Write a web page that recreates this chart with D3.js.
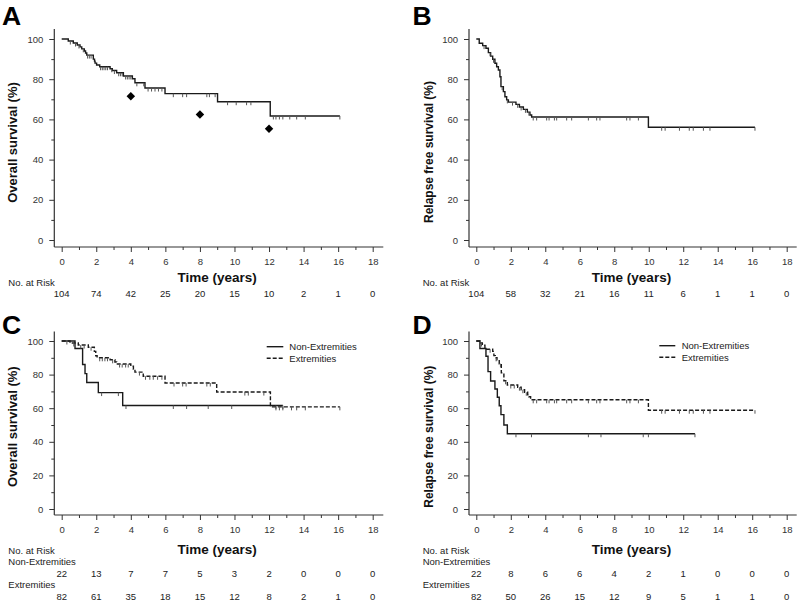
<!DOCTYPE html>
<html><head><meta charset="utf-8">
<script src="https://cdn.jsdelivr.net/npm/d3@7"></script>
<style>
html,body{margin:0;padding:0;background:#fff;}
svg{display:block;font-family:"Liberation Sans",Arial,sans-serif;}
</style></head>
<body>
<svg id="chart" width="800" height="601"></svg>
<script>
// ---------- DATA ----------
const xTicks = [0,2,4,6,8,10,12,14,16,18];
const xMinor = [1,3,5,7,9,11,13,15,17];
const yTicks = [0,20,40,60,80,100];
const yMinor = [10,30,50,70,90];

// Panel A: overall survival (all patients) — [time, survival%]
const osAllSteps = [[0,100],[0.38,99.0],[0.67,98.0],[0.9,97.0],[1.06,96.1],[1.16,95.1],[1.31,94.0],[1.38,93.0],[1.45,92.0],[1.83,90.0],[1.9,89.0],[1.93,88.0],[2.02,87.1],[2.2,86.2],[2.8,85.2],[2.93,84.3],[3.18,83.2],[3.57,81.6],[4.09,80.2],[4.24,78.2],[4.82,75.6],[5.98,72.8],[9.02,68.8],[12.07,61.7]];
const osAllEnd = 16.1;
const osAllCensor = [0.5,0.8,1.0,1.25,1.5,1.6,1.7,2.25,2.35,2.45,2.55,2.65,2.9,3.05,3.3,3.4,3.5,3.7,3.8,3.9,4.0,4.35,4.75,5.0,5.2,5.4,5.6,5.8,6.46,7.0,7.23,8.4,8.55,8.88,9.6,10.1,10.7,10.95,12.25,12.4,12.6,12.8,13.2,13.6,14.1,16.1];
const osRefTimes = [4,8,12];
const osRefValues = [71.5,62.4,55.4];
const riskA = [104,74,42,25,20,15,10,2,1,0];

// Panel B: relapse free survival (all patients)
const rfsAllSteps = [[0,100],[0.17,97.9],[0.37,96.7],[0.56,95.4],[0.7,93.2],[0.83,91.5],[0.95,89.9],[1.08,87.9],[1.18,86.2],[1.28,84.6],[1.37,81.2],[1.43,76.3],[1.57,73.8],[1.66,71.3],[1.76,69.7],[1.86,68.6],[2.3,67.5],[2.5,66.2],[2.73,65.0],[2.96,63.6],[3.11,62.2],[3.21,61.2],[9.98,56.1]];
const rfsAllEnd = 16.16;
const rfsAllCensor = [0.45,0.8,1.0,1.5,1.8,2.1,2.4,2.6,2.85,3.05,3.3,3.5,4.08,4.22,4.53,4.66,5.24,5.53,6.5,6.98,7.17,8.72,8.91,9.4,10.75,10.95,11.78,12.35,12.58,13.17,13.55,16.16];
const riskB = [104,58,32,21,16,11,6,1,1,0];

// Panel C: overall survival by site
const groups = ["Non-Extremities","Extremities"];
const osNonSteps = [[0,100],[0.77,95.5],[1.21,86.0],[1.35,80.6],[1.45,75.3],[2.12,69.3],[3.53,61.6]];
const osNonEnd = 12.8;
const osNonCensor = [2.31,3.28,3.72,6.46,7.23,8.48,9.84,12.4,12.8];
const osExtSteps = [[0,100],[0.48,98.8],[0.96,97.6],[1.54,96.3],[1.89,93.8],[1.97,91.2],[2.05,90.0],[2.8,88.8],[3.08,87.5],[3.18,86.3],[4.0,85.0],[4.15,83.2],[4.24,81.5],[4.72,79.0],[5.98,75.0],[8.97,69.6],[12.08,60.8]];
const osExtEnd = 16.1;
const osExtCensor = [0.3,0.7,1.1,1.3,1.7,2.2,2.35,2.5,2.65,2.95,3.35,3.5,3.7,3.85,4.5,4.85,5.1,5.3,5.55,5.8,6.5,7.0,7.2,8.4,8.6,10.6,10.8,11.7,12.4,12.6,12.8,13.3,13.6,14.1,16.1];
const riskCNon = [22,13,7,7,5,3,2,0,0,0];
const riskCExt = [82,61,35,18,15,12,8,2,1,0];

// Panel D: relapse free survival by site
const rfsNonSteps = [[0,100],[0.21,95.5],[0.56,90.9],[0.68,81.8],[0.83,76.2],[1.08,71.4],[1.22,66.5],[1.33,61.5],[1.43,56.2],[1.6,50.0],[1.8,44.8]];
const rfsNonEnd = 12.68;
const rfsNonCensor = [2.3,3.2,6.5,7.23,9.68,9.98,12.68];
const rfsExtSteps = [[0,100],[0.2,98.8],[0.35,97.5],[0.5,95.1],[0.95,93.8],[1.02,91.3],[1.1,90.0],[1.2,88.8],[1.33,86.5],[1.45,81.0],[1.6,76.3],[1.8,73.8],[2.4,72.5],[2.6,71.0],[2.8,69.5],[2.98,68.0],[3.05,66.8],[3.15,65.0],[9.98,58.8]];
const rfsExtEnd = 16.16;
const rfsExtCensor = [0.3,0.8,1.15,1.4,1.7,2.0,2.2,2.5,2.7,2.9,3.3,3.5,4.08,4.22,4.53,4.66,5.24,5.53,6.5,6.98,7.17,8.72,8.91,9.4,10.75,10.95,11.78,12.35,12.58,13.17,13.55,16.16];
const riskDNon = [22,8,6,6,4,2,1,0,0,0];
const riskDExt = [82,50,26,15,12,9,5,1,1,0];

// ---------- DRAWING ----------
const svg = d3.select("#chart");
const FONT = 9.5;
const lineColor = "#1a1a1a";

function stepAt(steps, t){
  let v = steps[0][1];
  for (const s of steps){ if (s[0] <= t) v = s[1]; }
  return v;
}

function drawPanel(p){
  const g = svg.append("g");
  const x = d3.scaleLinear().domain([0,18]).range([p.x0, p.x18]);
  const y = d3.scaleLinear().domain([0,100]).range([p.y0, p.y100]);

  g.append("line").attr("x1",p.axisX).attr("x2",p.axisX).attr("y1",p.axisTop).attr("y2",p.baseY)
    .attr("stroke","#333").attr("stroke-width",1.2);
  g.append("line").attr("x1",p.axisX).attr("x2",p.axisRight).attr("y1",p.baseY).attr("y2",p.baseY)
    .attr("stroke","#333").attr("stroke-width",1.2);

  const ya = g.append("g").attr("transform",`translate(${p.axisX},0)`)
    .call(d3.axisLeft(y).tickValues(yTicks).tickSize(5).tickPadding(6).tickFormat(d3.format("d")));
  const ym = g.append("g").attr("transform",`translate(${p.axisX},0)`)
    .call(d3.axisLeft(y).tickValues(yMinor).tickSize(3).tickFormat(""));
  const xa = g.append("g").attr("transform",`translate(0,${p.baseY})`)
    .call(d3.axisBottom(x).tickValues(xTicks).tickSize(5).tickPadding(6.5).tickFormat(d3.format("d")));
  const xm = g.append("g").attr("transform",`translate(0,${p.baseY})`)
    .call(d3.axisBottom(x).tickValues(xMinor).tickSize(3).tickFormat(""));
  [ya,ym,xa,xm].forEach(a=>{
    a.select(".domain").remove();
    a.selectAll(".tick line").attr("stroke","#333").attr("stroke-width",1);
    a.selectAll(".tick text").attr("font-size",FONT).attr("fill","#333")
      .attr("font-family",'"Liberation Sans",Arial,sans-serif');
  });

  g.append("text").attr("x",p.letterX).attr("y",p.letterY).attr("font-size",26.5).attr("font-weight","bold")
    .attr("fill","#000").text(p.letter);

  g.append("text").attr("transform",`translate(${p.ylabX},${p.ylabY}) rotate(-90)`)
    .attr("text-anchor","middle").attr("font-size",p.ylabSize).attr("font-weight","bold").attr("fill","#111")
    .text(p.ylab);
  g.append("text").attr("x",(p.x0+p.x18)/2).attr("y",p.xlabY).attr("text-anchor","middle")
    .attr("font-size",13.5).attr("font-weight","bold").attr("fill","#111").text("Time (years)");

  const line = d3.line().x(d=>x(d[0])).y(d=>y(d[1])).curve(d3.curveStepAfter);
  p.series.forEach(s=>{
    const pts = s.steps.concat([[s.end, s.steps[s.steps.length-1][1]]]);
    g.append("path").attr("d",line(pts)).attr("fill","none").attr("stroke",lineColor)
      .attr("stroke-width",1.4).attr("stroke-dasharray",s.dash||null);
    g.selectAll(null).data(s.censor).enter().append("line")
      .attr("x1",d=>x(d)).attr("x2",d=>x(d))
      .attr("y1",d=>y(stepAt(s.steps,d)))
      .attr("y2",d=>y(stepAt(s.steps,d))+3.5)
      .attr("stroke","#555").attr("stroke-width",1);
  });

  if (p.diamonds){
    g.selectAll(null).data(p.diamonds.t).enter().append("path")
      .attr("d",d3.symbol().type(d3.symbolSquare).size(36)())
      .attr("transform",(d,i)=>`translate(${x(d)},${y(p.diamonds.v[i])}) rotate(45)`)
      .attr("fill","#000");
  }

  if (p.legend){
    p.series.forEach((s,i)=>{
      const ly = p.legend.y + i*p.legend.dy;
      g.append("line").attr("x1",p.legend.x1).attr("x2",p.legend.x2).attr("y1",ly).attr("y2",ly)
        .attr("stroke",lineColor).attr("stroke-width",1.4).attr("stroke-dasharray",s.dash||null);
      g.append("text").attr("x",p.legend.tx).attr("y",ly+3.3).attr("font-size",FONT).attr("fill","#222")
        .text(s.name);
    });
  }

  g.append("text").attr("x",p.riskLabelX).attr("y",p.riskTitleY).attr("font-size",FONT).attr("fill","#222")
    .text("No. at Risk");
  p.risk.forEach(r=>{
    if (r.name) g.append("text").attr("x",p.riskLabelX).attr("y",r.nameY).attr("font-size",FONT)
      .attr("fill","#222").text(r.name);
    g.selectAll(null).data(r.values).enter().append("text")
      .attr("x",(d,i)=>x(xTicks[i])).attr("y",r.y).attr("text-anchor","middle")
      .attr("font-size",FONT).attr("fill","#222").text(d=>d);
  });
}

const topGeom = {y0:240, y100:39, axisTop:29, baseY:247, xlabY:281.5, riskTitleY:285.5, letterY:24.5};
const botGeom = {y0:509, y100:341, axisTop:331.5, baseY:515, xlabY:554, riskTitleY:553.5, letterY:334};
const leftGeom = {x0:61.7, x18:372.7, axisX:54.3, axisRight:383.3, ylabX:17, riskLabelX:8.3, letterX:2};
const rightGeom = {x0:476.3, x18:786.7, axisX:469, axisRight:796.7, ylabX:433, riskLabelX:422.7, letterX:412.5};

drawPanel(Object.assign({}, topGeom, leftGeom, {
  letter:"A", ylab:"Overall survival (%)", ylabSize:13, ylabY:142.5,
  series:[{steps:osAllSteps, end:osAllEnd, censor:osAllCensor}],
  diamonds:{t:osRefTimes, v:osRefValues},
  risk:[{values:riskA, y:296.5}]
}));
drawPanel(Object.assign({}, topGeom, rightGeom, {
  letter:"B", ylab:"Relapse free survival (%)", ylabSize:12, ylabY:152,
  series:[{steps:rfsAllSteps, end:rfsAllEnd, censor:rfsAllCensor}],
  risk:[{values:riskB, y:296.5}]
}));
drawPanel(Object.assign({}, botGeom, leftGeom, {
  letter:"C", ylab:"Overall survival (%)", ylabSize:13, ylabY:426.7,
  series:[{name:groups[0], steps:osNonSteps, end:osNonEnd, censor:osNonCensor},
          {name:groups[1], steps:osExtSteps, end:osExtEnd, censor:osExtCensor, dash:"4,2"}],
  legend:{x1:266.7, x2:283.3, tx:289.3, y:346.7, dy:11.6},
  risk:[{name:groups[0], nameY:565, values:riskCNon, y:576.7},
        {name:groups[1], nameY:588.3, values:riskCExt, y:600}]
}));
drawPanel(Object.assign({}, botGeom, rightGeom, {
  letter:"D", ylab:"Relapse free survival (%)", ylabSize:12, ylabY:436.7,
  series:[{name:groups[0], steps:rfsNonSteps, end:rfsNonEnd, censor:rfsNonCensor},
          {name:groups[1], steps:rfsExtSteps, end:rfsExtEnd, censor:rfsExtCensor, dash:"4,2"}],
  legend:{x1:659.3, x2:675.3, tx:681.7, y:345.7, dy:11.6},
  risk:[{name:groups[0], nameY:565, values:riskDNon, y:576.7},
        {name:groups[1], nameY:588.3, values:riskDExt, y:600}]
}));
</script>
</body></html>
